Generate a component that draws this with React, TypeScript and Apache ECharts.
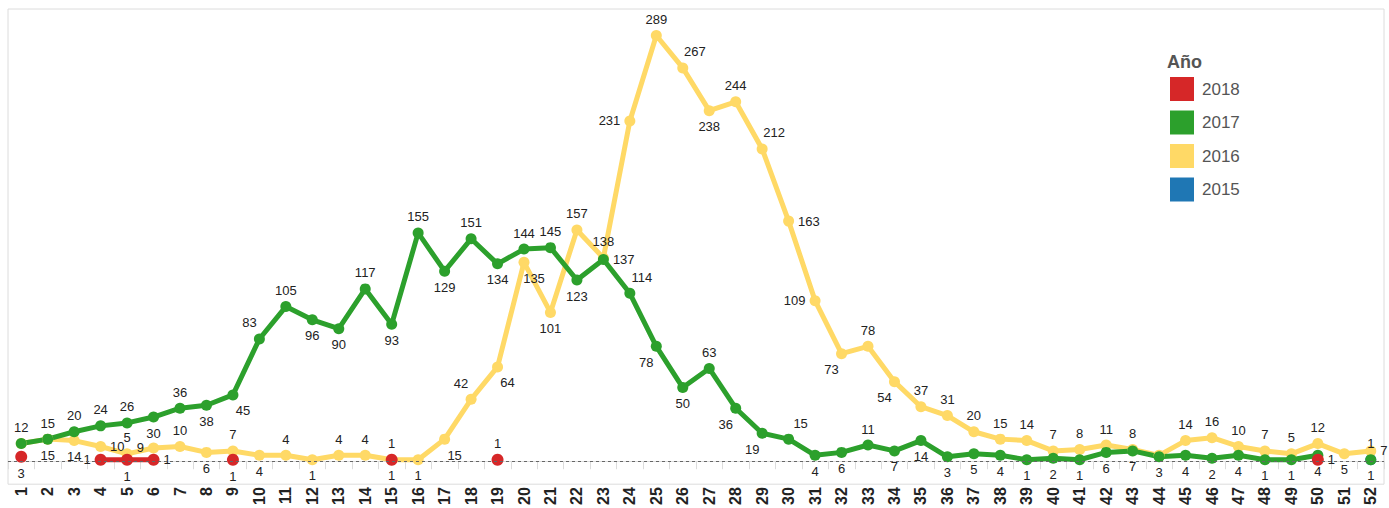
import React, { useEffect, useRef } from "react";
import * as echarts from "echarts";

const weeks = [
  "1","2","3","4","5","6","7","8","9","10","11","12","13","14","15","16","17","18","19","20",
  "21","22","23","24","25","26","27","28","29","30","31","32","33","34","35","36","37","38","39","40",
  "41","42","43","44","45","46","47","48","49","50","51","52",
];

const years = ["2018", "2017", "2016", "2015"];

const y2018 = [
  3, null, null, 1, 1, 1, null, null, 1, null, null, null, null, null, 1, null, null, null, 1, null,
  null, null, null, null, null, null, null, null, null, null, null, null, null, null, null, null, null, null, null, null,
  null, null, null, null, null, null, null, null, null, 1, null, null,
];

const y2017 = [
  12, 15, 20, 24, 26, 30, 36, 38, 45, 83, 105, 96, 90, 117, 93, 155, 129, 151, 134, 144,
  145, 123, 137, 114, 78, 50, 63, 36, 19, 15, 4, 6, 11, 7, 14, 3, 5, 4, 1, 2,
  1, 6, 7, 3, 4, 2, 4, 1, 1, 4, null, 1,
];

const y2016 = [
  12, 15, 14, 10, 5, 9, 10, 6, 7, 4, 4, 1, 4, 4, 1, 1, 15, 42, 64, 135,
  101, 157, 138, 231, 289, 267, 238, 244, 212, 163, 109, 73, 78, 54, 37, 31, 20, 15, 14, 7,
  8, 11, 8, 4, 14, 16, 10, 7, 5, 12, 5, 7,
];

const y2015 = [
  null, null, null, null, null, null, null, null, null, null, null, null, null, null, null, null, null, null, null, null,
  null, null, null, null, null, null, null, null, null, null, null, null, null, null, null, null, null, null, null, null,
  null, null, null, null, null, null, null, null, null, null, null, 1,
];

// label placement codes per point (layout only)
const pos2018 = "b n n l b r n n b n n n n n t n n n t n n n n n n n n n n n n n n n n n n n n n n n n n n n n n n r n n";
const pos2017 = "t t t t t b t b br tl t b b t b t b t b t t b r tr bl b t bl bl tr b b t b b b b b b b b b b b b b b b b b n b";
const pos2016 = "n b b r t l t b t b t b t t b b br tl br br b t t l t tr b t tr r l bl t bl t t t t t t t t t n t t t t t t b r";
const pos2015 = "n n n n n n n n n n n n n n n n n n n n n n n n n n n n n n n n n n n n n n n n n n n n n n n n n n n t";

const colors: Record<string, string> = {
  "2018": "#d62728",
  "2017": "#2ca02c",
  "2016": "#ffd966",
  "2015": "#1f77b4",
};

function labelCfg(code: string) {
  switch (code) {
    case "t": return { show: true, position: "top" };
    case "b": return { show: true, position: "bottom" };
    case "l": return { show: true, position: "left" };
    case "r": return { show: true, position: "right" };
    case "tr": return { show: true, position: "top", offset: [12, 0] };
    case "tl": return { show: true, position: "top", offset: [-10, 0] };
    case "br": return { show: true, position: "bottom", offset: [10, 0] };
    case "bl": return { show: true, position: "bottom", offset: [-10, 0] };
    default: return { show: false };
  }
}

function buildData(values: (number | null)[], codes: string) {
  const c = codes.split(" ");
  return values.map((v, i) => (v === null ? null : { value: v, label: labelCfg(c[i]) }));
}

export default function App() {
  const ref = useRef<HTMLDivElement>(null);
  useEffect(() => {
    if (!ref.current) return;
    const chart = echarts.init(ref.current, undefined, { renderer: "svg" });
    const mk = (name: string, values: (number | null)[], codes: string, extra: any = {}) => ({
      name,
      type: "line",
      data: buildData(values, codes),
      symbol: "circle",
      symbolSize: name === "2018" ? 12 : 11,
      showAllSymbol: true,
      connectNulls: false,
      lineStyle: { width: 5, color: colors[name], cap: "round", join: "round" },
      itemStyle: { color: colors[name] },
      label: {
        show: true,
        fontSize: 13,
        color: "#222",
        fontFamily: "Liberation Sans, Arial, sans-serif",
        distance: 4,
      },
      emphasis: { disabled: true },
      ...extra,
    });
    chart.setOption({
      animation: false,
      grid: {
        left: 8,
        right: 5,
        top: 9,
        bottom: 23,
        show: true,
        borderColor: "#dcdcdc",
        borderWidth: 1,
      },
      graphic: [
        {
          type: "text",
          left: 1167,
          top: 53,
          style: {
            text: "Año",
            fontSize: 18,
            fontWeight: "bold",
            fill: "#555",
            fontFamily: "Liberation Sans, Arial, sans-serif",
          },
        },
      ],
      legend: {
        data: years.map((y) => ({ name: y, icon: "rect" })),
        orient: "vertical",
        left: 1170,
        top: 77,
        padding: 0,
        itemWidth: 24,
        itemHeight: 24,
        itemGap: 9.5,
        selectedMode: false,
        textStyle: {
          fontSize: 17,
          color: "#555",
          fontFamily: "Liberation Sans, Arial, sans-serif",
          padding: [0, 0, 0, 3],
        },
      },
      xAxis: {
        type: "category",
        data: weeks,
        boundaryGap: true,
        axisLine: { lineStyle: { color: "#dcdcdc" } },
        axisTick: { show: true, interval: 0, length: 8, lineStyle: { color: "#dcdcdc" } },
        axisLabel: {
          interval: 0,
          rotate: 90,
          fontSize: 16,
          fontWeight: "bold",
          color: "#222",
          margin: 3,
          fontFamily: "Liberation Sans, Arial, sans-serif",
        },
        splitLine: { show: false },
      },
      yAxis: {
        type: "value",
        min: -15.6,
        max: 307,
        show: false,
        splitLine: { show: false },
      },
      series: [
        mk("2015", y2015, pos2015, {
          markLine: {
            silent: true,
            symbol: "none",
            label: { show: false },
            lineStyle: { color: "#666", width: 1, type: [3, 3] },
            data: [{ yAxis: 0 }],
          },
        }),
        mk("2016", y2016, pos2016),
        mk("2017", y2017, pos2017),
        mk("2018", y2018, pos2018),
      ],
    });
    return () => chart.dispose();
  }, []);
  return (
    <div
      ref={ref}
      style={{ position: "fixed", left: 0, top: 0, width: 1389, height: 508, background: "#fff" }}
    />
  );
}
